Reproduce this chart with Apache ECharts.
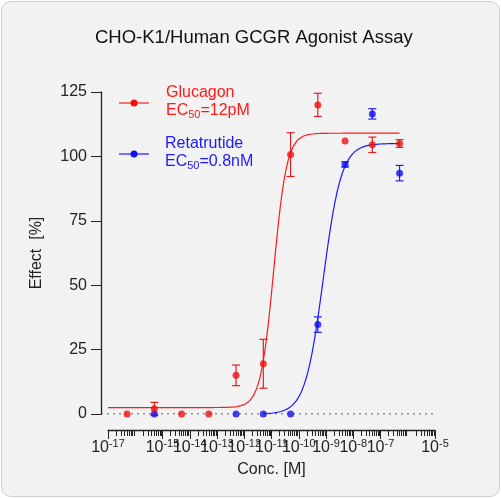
<!DOCTYPE html>
<html><head><meta charset="utf-8">
<script src="https://cdn.jsdelivr.net/npm/echarts@6/dist/echarts.min.js"></script>
<style>html,body{margin:0;padding:0;background:#fff}
#c{position:absolute;left:1px;top:1px;width:497px;height:494px;background:#f2f2f2;border:1px solid #cfcfcf;border-radius:10px;overflow:hidden}</style>
</head><body><div id="c"></div>
<script>
const glucX=[-16.3,-15.3,-14.3,-13.3,-12.3,-11.3,-10.3,-9.3,-8.3,-7.3,-6.3];
const glucY=[0,2,0,0,15,19.5,100.7,120,106,104.5,105];
const glucErr=[0,2.5,0,0,4,9.5,8.5,4.5,0,3,1.5];
const retaX=[-15.3,-12.3,-11.3,-10.3,-9.3,-8.3,-7.3,-6.3];
const retaY=[0,0,0,0,34.7,96.9,116.5,93.5];
const retaErr=[0,0,0,0,3,1,2,3];
const glucFit=[2.5,109,-10.92,1.8]; // bottom, top, logEC50, hill
const retaFit=[0,105,-9.1,1.3];
const xTicks=[-17,-16,-15,-14,-13,-12,-11,-10,-9,-8,-7,-6,-5];
const yTicks=[0,25,50,75,100,125];

function curve(p,a,b){const o=[];for(let x=a;x<=b+1e-9;x+=0.02){o.push([x,p[0]+(p[1]-p[0])/(1+Math.pow(10,(p[2]-x)*p[3]))]);}return o;}
const minor=[];for(let d=-17;d<-5;d++)for(let k=2;k<=9;k++)minor.push(d+Math.log10(k));
const chart=echarts.init(document.getElementById('c'));
function errSeries(xs,ys,es,color){
 return {type:'custom',xAxisIndex:0,yAxisIndex:0,z:3,data:xs.map((x,i)=>[x,ys[i],es[i]]),
  renderItem:(p,api)=>{const x=api.value(0),y=api.value(1),e=api.value(2);if(!e)return;
   const t=api.coord([x,y+e]),b=api.coord([x,y-e]);const st={stroke:color,lineWidth:1.2};
   return {type:'group',children:[{type:'line',shape:{x1:t[0],y1:t[1],x2:b[0],y2:b[1]},style:st},
    {type:'line',shape:{x1:t[0]-4,y1:t[1],x2:t[0]+4,y2:t[1]},style:st},
    {type:'line',shape:{x1:b[0]-4,y1:b[1],x2:b[0]+4,y2:b[1]},style:st}]};}};
}
const F='Liberation Sans, Arial';
chart.setOption({
 animation:false,
 textStyle:{fontFamily:F},
 title:{text:'CHO-K1/Human GCGR Agonist Assay',left:88,top:21,textStyle:{fontSize:18.5,fontWeight:'normal',color:'#111',fontFamily:F}},
 grid:[{left:99,top:90,width:334,height:322},{left:106,top:420,width:327,height:8}],
 xAxis:[{gridIndex:0,type:'value',min:-17.257,max:-5,show:false},
  {gridIndex:1,type:'value',min:-17,max:-5,interval:1,position:'bottom',
   axisLine:{lineStyle:{color:'#222',width:1.3}},axisTick:{length:9,lineStyle:{color:'#222'}},splitLine:{show:false},
   axisLabel:{margin:8,showMinLabel:true,showMaxLabel:true,hideOverlap:false,formatter:v=>'{b|10}{s|'+v+'}',rich:{b:{fontSize:16,color:'#222',fontFamily:F},s:{fontSize:11,color:'#222',fontFamily:F,verticalAlign:'top',padding:[0,0,8,0]}}},
   name:'Conc. [M]',nameLocation:'middle',nameGap:32,nameTextStyle:{fontSize:16,color:'#222'}},
  {gridIndex:1,type:'value',min:-17,max:-5,position:'bottom',axisLine:{show:false},axisLabel:{show:false},splitLine:{show:false},
   axisTick:{length:6,customValues:minor,lineStyle:{color:'#222'}}}],
 yAxis:[{gridIndex:0,type:'value',min:0,max:125,interval:25,
   axisLine:{show:true,lineStyle:{color:'#222',width:1.3}},axisTick:{show:true,length:10,lineStyle:{color:'#222'}},splitLine:{show:false},
   axisLabel:{fontSize:16,color:'#222',margin:14,fontFamily:F},
   name:'Effect  [%]',nameLocation:'middle',nameGap:56,nameTextStyle:{fontSize:16,color:'#222'}},
  {gridIndex:1,type:'value',show:false}],
 series:[
  {type:'line',xAxisIndex:0,yAxisIndex:0,data:[[-17.257,0],[-5,0]],symbol:'none',silent:true,z:1,lineStyle:{color:'#333',type:[2,4],width:1.2}},
  {type:'line',xAxisIndex:0,yAxisIndex:0,data:curve(glucFit,-17,-6.3),symbol:'none',lineStyle:{color:'#ff1a1a',width:1.2},z:2},
  {type:'line',xAxisIndex:0,yAxisIndex:0,data:curve(retaFit,-11.3,-6.3),symbol:'none',lineStyle:{color:'#1a1aff',width:1.2},z:2},
  errSeries(glucX,glucY,glucErr,'#e02020'),errSeries(retaX,retaY,retaErr,'#2020e0'),
  {type:'scatter',xAxisIndex:0,yAxisIndex:0,data:retaX.map((x,i)=>[x,retaY[i]]),symbolSize:7,itemStyle:{color:'#1010ee'},z:4},
  {type:'scatter',xAxisIndex:0,yAxisIndex:0,data:glucX.map((x,i)=>[x,glucY[i]]),symbolSize:7,itemStyle:{color:'#ee1010'},z:5}
 ],
 graphic:[
  {type:'line',shape:{x1:117,y1:101,x2:147,y2:101},style:{stroke:'#ff1a1a',lineWidth:1.2}},
  {type:'circle',shape:{cx:132,cy:101,r:3.5},style:{fill:'#ee1010'}},
  {type:'text',left:164,top:83,style:{text:'Glucagon',fontSize:16,fill:'#ff1a1a',fontFamily:F}},
  {type:'text',left:164,top:101,style:{text:'{a|EC}{s|50}{a|=12pM}',rich:{a:{fontSize:16,fill:'#ff1a1a',fontFamily:F},s:{fontSize:11,fill:'#ff1a1a',verticalAlign:'bottom',padding:[8,0,0,0],fontFamily:F}}}},
  {type:'line',shape:{x1:117,y1:152,x2:147,y2:152},style:{stroke:'#1a1aff',lineWidth:1.2}},
  {type:'circle',shape:{cx:132,cy:152,r:3.5},style:{fill:'#1010ee'}},
  {type:'text',left:163,top:134,style:{text:'Retatrutide',fontSize:16,fill:'#1a1aff',fontFamily:F}},
  {type:'text',left:163,top:152,style:{text:'{a|EC}{s|50}{a|=0.8nM}',rich:{a:{fontSize:16,fill:'#1a1aff',fontFamily:F},s:{fontSize:11,fill:'#1a1aff',verticalAlign:'bottom',padding:[8,0,0,0],fontFamily:F}}}}
 ]
});
</script></body></html>
